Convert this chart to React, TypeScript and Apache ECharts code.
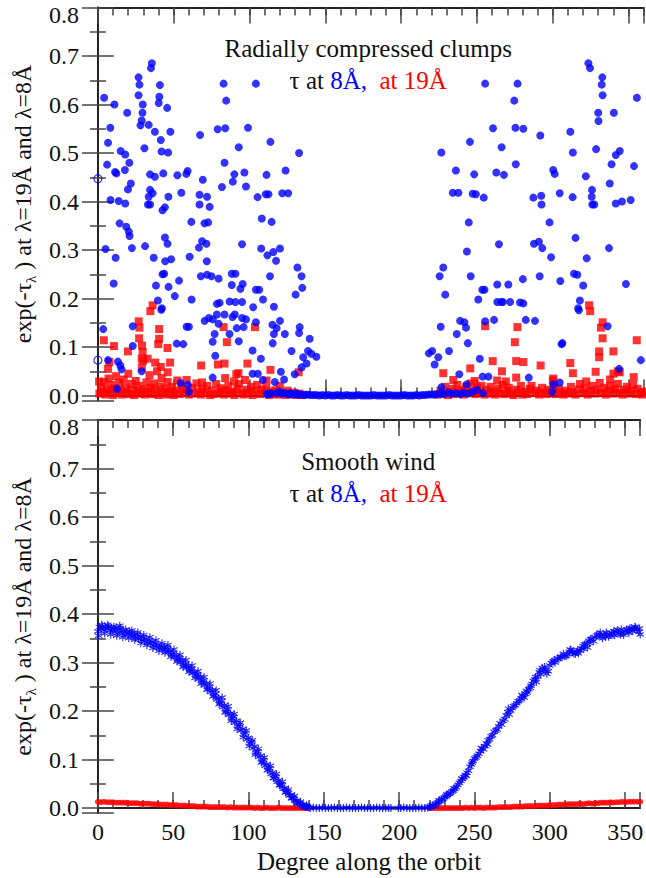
import React, { useEffect, useRef } from 'react';
import * as echarts from 'echarts';

const FONT = 'Liberation Serif';
const BLUE = '#0000ff';
const RED = '#ff0000';
const INK = '#111111';

// ---------- Top panel: radially compressed clumps ----------
const clumpsBlue8A: [number, number][] = [
  [35.6,0.685],[35.0,0.675],[26.8,0.656],[27.4,0.641],[40.9,0.640],[4.1,0.614],[26.8,0.619],[40.5,0.616],[40.1,0.603],[10.9,0.600],
  [29.6,0.600],[45.7,0.593],[19.3,0.583],[29.4,0.583],[28.9,0.567],[28.1,0.557],[33.5,0.558],[8.2,0.552],[37.6,0.544],[47.8,0.544],
  [41.5,0.527],[6.7,0.521],[30.7,0.510],[15.0,0.504],[18.0,0.497],[42.0,0.503],[46.3,0.501],[20.7,0.480],[6.1,0.476],[17.8,0.465],
  [11.3,0.461],[12.2,0.458],[34.4,0.456],[37.6,0.451],[43.1,0.458],[52.4,0.454],[59.2,0.463],[58.3,0.457],[21.7,0.437],[19.8,0.425],
  [34.4,0.424],[33.5,0.410],[36.1,0.417],[46.5,0.410],[8.3,0.403],[13.7,0.401],[18.0,0.396],[33.0,0.394],[34.4,0.394],[44.2,0.388],
  [42.6,0.382],[55.0,0.418],[67.4,0.537],[79.0,0.549],[84.0,0.551],[82.9,0.643],[84.6,0.608],[83.5,0.480],[69.2,0.445],[81.8,0.430],
  [67.0,0.414],[72.0,0.410],[67.0,0.394],[73.7,0.389],[61.6,0.358],[70.3,0.355],[72.7,0.357],[14.3,0.355],[18.7,0.348],[20.4,0.338],
  [20.9,0.329],[44.2,0.326],[45.9,0.313],[5.0,0.302],[11.7,0.284],[22.4,0.304],[31.1,0.308],[36.8,0.284],[44.4,0.277],[48.3,0.281],
  [60.5,0.286],[68.7,0.318],[71.6,0.313],[66.6,0.305],[71.8,0.277],[42.6,0.250],[43.7,0.251],[53.5,0.237],[38.3,0.227],[46.6,0.224],
  [67.9,0.246],[72.0,0.249],[74.9,0.246],[79.6,0.241],[88.3,0.251],[88.3,0.228],[10.4,0.231],[50.7,0.205],[61.8,0.198],[39.6,0.196],
  [42.2,0.180],[41.8,0.177],[78.5,0.189],[80.3,0.191],[86.9,0.194],[78.5,0.167],[83.5,0.167],[73.2,0.160],[70.4,0.154],[75.8,0.157],
  [79.6,0.148],[88.8,0.162],[58.5,0.142],[60.0,0.142],[3.5,0.137],[23.0,0.143],[77.0,0.127],[86.8,0.127],[75.7,0.111],[52.0,0.107],
  [56.3,0.106],[23.0,0.102],[77.4,0.082],[13.2,0.070],[14.8,0.062],[15.6,0.054],[6.7,0.073],[28.9,0.050],[75.7,0.037],[12.6,0.014],
  [54.6,0.026],[59.4,0.022],[60.0,0.008],
  [104.2,0.643],[99.0,0.552],[113.8,0.523],[92.9,0.512],[132.7,0.500],[90.0,0.456],[89.0,0.441],[96.6,0.460],[111.2,0.455],[123.8,0.464],
  [97.7,0.431],[105.3,0.409],[110.7,0.415],[112.5,0.415],[121.6,0.417],[125.5,0.417],[108.1,0.365],[114.6,0.358],[95.1,0.312],[107.7,0.303],
  [111.8,0.289],[115.7,0.296],[120.1,0.303],[117.5,0.278],[131.6,0.264],[134.3,0.246],[90.7,0.251],[113.5,0.246],[95.5,0.230],[94.0,0.220],
  [104.2,0.218],[106.4,0.218],[134.8,0.222],[130.4,0.208],[108.9,0.198],[90.7,0.193],[95.1,0.193],[102.4,0.182],[116.1,0.183],[90.3,0.167],
  [95.1,0.160],[97.7,0.157],[91.6,0.139],[96.1,0.141],[104.2,0.151],[115.1,0.146],[120.1,0.154],[117.9,0.139],[116.1,0.127],[123.3,0.127],
  [133.1,0.141],[132.7,0.129],[92.9,0.112],[139.7,0.117],[115.3,0.108],[127.7,0.092],[138.6,0.092],[140.8,0.086],[144.1,0.080],[135.4,0.079],
  [102.0,0.093],[107.5,0.076],[137.6,0.066],[134.3,0.058],[120.7,0.049],[102.0,0.045],[105.5,0.045],[129.8,0.044],[108.8,0.032],[116.7,0.028],
  [122.8,0.033],[111.4,0.003],[114.2,0.004],[120.1,0.008],[127.0,0.005],[131.5,0.004],
  [255.4,0.643],[260.6,0.551],[245.4,0.523],[266.3,0.512],[226.5,0.501],[236.1,0.464],[248.2,0.456],[262.8,0.460],[267.8,0.455],[234.1,0.418],
  [237.8,0.418],[247.2,0.416],[249.3,0.415],[254.5,0.408],[244.6,0.357],[264.5,0.312],[243.4,0.297],[227.8,0.264],[225.4,0.246],[245.9,0.246],
  [263.4,0.229],[229.1,0.208],[250.9,0.198],[253.5,0.218],[255.0,0.218],[263.4,0.193],[266.0,0.193],[238.9,0.154],[241.7,0.151],[242.8,0.140],
  [226.1,0.142],[236.7,0.127],[255.4,0.153],[261.3,0.156],[244.0,0.108],[218.3,0.087],[220.5,0.092],[231.6,0.092],[224.5,0.079],[222.1,0.064],
  [251.9,0.076],[238.4,0.044],[253.7,0.039],[257.6,0.039],[243.2,0.023],[226.6,0.017],
  [323.5,0.685],[324.6,0.675],[276.8,0.643],[332.7,0.656],[332.3,0.641],[332.9,0.619],[355.5,0.614],[274.6,0.608],[330.0,0.583],[330.2,0.566],
  [340.3,0.583],[275.4,0.552],[280.6,0.550],[291.8,0.536],[311.6,0.544],[313.3,0.501],[328.6,0.508],[344.2,0.504],[341.6,0.496],[275.6,0.477],
  [338.8,0.477],[353.6,0.473],[300.3,0.465],[301.3,0.457],[321.8,0.452],[337.6,0.437],[325.9,0.424],[287.2,0.408],[292.4,0.412],[292.6,0.394],
  [304.6,0.417],[313.1,0.409],[325.7,0.410],[326.1,0.394],[327.4,0.394],[341.6,0.396],[345.7,0.400],[351.4,0.403],[297.9,0.357],[315.0,0.325],
  [287.6,0.313],[290.9,0.317],[293.1,0.304],[337.1,0.304],[298.9,0.285],[322.4,0.283],[291.4,0.246],[280.3,0.240],[305.0,0.236],[314.0,0.251],
  [316.2,0.249],[320.1,0.227],[348.3,0.230],[270.7,0.229],[267.1,0.193],[271.9,0.193],[278.4,0.192],[280.6,0.190],[317.9,0.196],[316.8,0.180],
  [317.2,0.176],[282.2,0.156],[288.3,0.154],[336.2,0.143],[306.4,0.108],[305.8,0.106],[358.1,0.073],[343.8,0.055],[284.2,0.037],[300.3,0.023],
  [304.6,0.027],[299.7,0.008],
];

const clumpsBlueHollow: [number, number][] = [[0,0.447],[0,0.073]];

const clumpsBlueNearZero: [number, number][] = [
  [112,0.003],[114,0.004],[118,0.006],[121,0.004],[123,0.005],[125,0.003],[127,0.004],[128,0.002],[130,0.003],[132,0.002],
  [134,0.002],[136,0.001],[138,0.002],[140,0.001],[142,0.001],[144,0.001],[146,0],[148,0.001],[150,0],[152,0.001],
  [154,0],[156,0],[158,0.001],[160,0],[162,0],[164,0.001],[166,0],[168,0],[170,0],[172,0.001],
  [174,0],[176,0],[178,0],[180,0],[182,0.001],[184,0],[186,0],[188,0],[190,0],[192,0.001],
  [194,0],[196,0],[198,0],[200,0],[202,0.001],[204,0],[206,0],[208,0],[210,0.001],[212,0],
  [214,0.001],[216,0.001],[218,0.002],[220,0.002],[222,0.002],[224,0.003],[226,0.004],[228,0.003],[231,0.006],[233,0.004],
  [236,0.005],[239,0.003],[241,0.006],[244,0.004],[247,0.008],[250,0.012],[254,0.005],
];

const clumpsRed19A: [number, number][] = [
  [36.1,0.186],[34.6,0.174],[26.9,0.153],[27.4,0.140],[40.4,0.137],[3.9,0.114],[10.6,0.102],[27.2,0.118],[40.4,0.117],[29.1,0.103],
  [39.8,0.106],[45.9,0.098],[19.8,0.091],[29.5,0.090],[28.9,0.076],[29.8,0.072],[47.6,0.068],[32.8,0.076],[37.8,0.068],[41.5,0.059],
  [6.7,0.055],[7.5,0.069],[46.0,0.048],[68.1,0.062],[82.9,0.141],[85.1,0.110],[103.6,0.141],[79.2,0.064],[83.5,0.066],[98.6,0.066],
  [92.7,0.046],[113.8,0.053],[83.9,0.036],[89.8,0.029],[97.0,0.032],[0.8,0.029],[52.4,0.031],[58.5,0.032],[68.7,0.027],[111.2,0.031],
  [132.4,0.048],[91.3,0.044],
  [324.0,0.186],[324.7,0.174],[332.9,0.151],[331.8,0.140],[276.7,0.141],[255.4,0.143],[332.9,0.118],[355.4,0.114],[275.0,0.110],[330.6,0.091],
  [330.6,0.079],[340.0,0.091],[260.4,0.071],[275.9,0.071],[280.6,0.069],[292.0,0.062],[311.6,0.067],[245.6,0.056],[266.5,0.050],[313.3,0.046],
  [328.3,0.049],[344.2,0.048],[353.4,0.038],[227.8,0.046],[234.4,0.032],[263.3,0.031],[269.1,0.029],[275.9,0.037],[322.1,0.029],[300.1,0.031],
  [337.8,0.033],[340.0,0.045],[248.5,0.030],[300.3,0.035],[343.0,0.050],
];

const clumpsRed19ABase: [number, number][] = [
  [1,0.004],[2,0.018],[3,0.008],[4,0.028],[5,0.002],[6,0.012],[7,0.035],[8,0.006],[9,0.022],[10,0.001],
  [11,0.015],[12,0.040],[13,0.005],[14,0.026],[15,0.010],[16,0.002],[17,0.033],[18,0.017],[19,0.007],[20,0.045],
  [21,0.003],[22,0.024],[23,0.012],[24,0.001],[25,0.030],[26,0.009],[27,0.020],[28,0.004],[29,0.058],[30,0.013],
  [31,0.002],[32,0.027],[33,0.008],[34,0.042],[35,0.016],[36,0.003],[37,0.025],[38,0.010],[39,0.050],[40,0.001],
  [41,0.019],[42,0.036],[43,0.006],[44,0.014],[45,0.002],[46,0.028],[47,0.009],[48,0.004],[49,0.018],[50,0.001],
  [52,0.010],[54,0.003],[55,0.020],[57,0.006],[58,0.012],[60,0.002],[62,0.016],[63,0.004],[65,0.025],[66,0.008],
  [68,0.002],[69,0.014],[71,0.005],[72,0.020],[74,0.001],[75,0.010],[77,0.003],[78,0.024],[80,0.007],[81,0.015],
  [83,0.002],[84,0.011],[86,0.020],[87,0.004],[89,0.008],[90,0.001],[92,0.014],[93,0.024],[95,0.006],[96,0.002],
  [98,0.012],[99,0.004],[101,0.018],[102,0.001],[104,0.009],[105,0.022],[107,0.003],[108,0.012],[110,0.005],[111,0.015],
  [113,0.001],[114,0.008],[116,0.003],[117,0.011],[119,0.002],[120,0.020],[122,0.005],[124,0.001],[125,0.010],[127,0.003],
  [129,0.006],[131,0.001],[133,0.004],[135,0.001],
  [224,0.002],[226,0.010],[228,0.004],[229,0.018],[231,0.001],[232,0.008],[234,0.014],[235,0.003],[237,0.022],[238,0.006],
  [240,0.012],[241,0.002],[243,0.018],[244,0.005],[246,0.025],[247,0.009],[249,0.003],[250,0.016],[252,0.006],[253,0.020],
  [255,0.002],[256,0.012],[258,0.004],[259,0.018],[261,0.008],[262,0.002],[264,0.014],[265,0.005],[267,0.022],[268,0.003],
  [270,0.010],[271,0.016],[273,0.004],[274,0.001],[276,0.012],[277,0.006],[279,0.020],[280,0.002],[282,0.008],[283,0.003],
  [285,0.014],[286,0.020],[288,0.005],[289,0.010],[291,0.002],[293,0.016],[294,0.006],[296,0.003],[297,0.012],[299,0.008],
  [301,0.020],[302,0.003],[304,0.014],[305,0.006],[307,0.002],[308,0.010],[310,0.004],[312,0.018],[313,0.007],[315,0.002],
  [317,0.012],[318,0.024],[320,0.005],[321,0.015],[323,0.002],[325,0.010],[326,0.020],[328,0.004],[329,0.012],[331,0.026],
  [332,0.006],[334,0.016],[335,0.002],[337,0.010],[338,0.020],[340,0.004],[341,0.014],[343,0.024],[344,0.006],[346,0.002],
  [347,0.012],[349,0.018],[350,0.004],[352,0.010],[353,0.022],[355,0.003],[356,0.014],[358,0.006],[359,0.002],[360,0.008],
];

// ---------- Bottom panel: smooth wind ----------
const smoothBlue8A: [number, number][] = [
  [0,0.364],[1,0.373],[2,0.369],[3,0.375],[4,0.367],[5,0.372],[6,0.370],[7,0.375],[8,0.366],[9,0.371],
  [10,0.364],[11,0.369],[12,0.372],[13,0.361],[14,0.367],[15,0.371],[16,0.360],[17,0.365],[18,0.357],[19,0.363],
  [20,0.359],[21,0.364],[22,0.354],[23,0.360],[24,0.356],[25,0.351],[26,0.358],[27,0.349],[28,0.354],[29,0.346],
  [30,0.352],[31,0.344],[32,0.349],[33,0.341],[34,0.346],[35,0.339],[36,0.343],[37,0.335],[38,0.340],[39,0.331],
  [40,0.337],[41,0.330],[42,0.334],[43,0.326],[44,0.332],[45,0.327],[46,0.331],[47,0.321],[48,0.325],[49,0.316],
  [50,0.320],[51,0.311],[52,0.314],[53,0.305],[54,0.310],[55,0.300],[56,0.305],[57,0.294],[58,0.298],[59,0.289],
  [60,0.293],[61,0.284],[62,0.287],[63,0.278],[64,0.281],[65,0.272],[66,0.276],[67,0.266],[68,0.270],[69,0.259],
  [70,0.263],[71,0.253],[72,0.257],[73,0.246],[74,0.250],[75,0.239],[76,0.243],[77,0.232],[78,0.235],[79,0.224],
  [80,0.227],[81,0.216],[82,0.220],[83,0.208],[84,0.212],[85,0.199],[86,0.203],[87,0.192],[88,0.195],[89,0.184],
  [90,0.188],[91,0.176],[92,0.180],[93,0.168],[94,0.172],[95,0.160],[96,0.163],[97,0.151],[98,0.155],[99,0.142],
  [100,0.145],[101,0.133],[102,0.136],[103,0.123],[104,0.127],[105,0.114],[106,0.117],[107,0.105],[108,0.108],[109,0.096],
  [110,0.099],[111,0.087],[112,0.090],[113,0.079],[114,0.082],[115,0.070],[116,0.073],[117,0.062],[118,0.065],[119,0.054],
  [120,0.057],[121,0.047],[122,0.049],[123,0.040],[124,0.041],[125,0.033],[126,0.034],[127,0.026],[128,0.027],[129,0.020],
  [130,0.021],[131,0.014],[132,0.015],[133,0.010],[134,0.010],[135,0.006],[136,0.006],[137,0.003],[138,0.003],[139,0.002],
  [140,0.001],
  [219,0.001],[220,0.003],[221,0.002],[222,0.005],[223,0.004],[224,0.008],[225,0.010],[226,0.012],[227,0.014],[228,0.017],
  [229,0.019],[230,0.022],[231,0.024],[232,0.027],[233,0.029],[234,0.031],[235,0.034],[236,0.036],[237,0.040],[238,0.043],
  [239,0.048],[240,0.052],[241,0.056],[242,0.060],[243,0.064],[244,0.068],[245,0.073],[246,0.077],[247,0.085],[248,0.090],
  [249,0.097],[250,0.102],[252,0.108],[253,0.112],[254,0.117],[255,0.123],[256,0.121],[257,0.128],[258,0.133],[259,0.140],
  [260,0.142],[262,0.150],[263,0.157],[264,0.160],[266,0.168],[267,0.175],[268,0.172],[270,0.183],[271,0.191],[272,0.198],
  [273,0.193],[274,0.201],[275,0.206],[277,0.212],[278,0.216],[279,0.220],[280,0.222],[281,0.226],[282,0.230],[283,0.228],
  [284,0.235],[285,0.238],[286,0.245],[287,0.248],[288,0.256],[289,0.262],[290,0.265],[291,0.260],[292,0.271],[293,0.280],
  [294,0.276],[295,0.289],[296,0.285],[297,0.283],[298,0.277],[299,0.282],[300,0.294],[301,0.299],[302,0.302],[303,0.305],
  [305,0.309],[306,0.307],[307,0.311],[308,0.312],[310,0.313],[311,0.314],[312,0.317],[313,0.322],[314,0.326],[315,0.321],
  [316,0.318],[317,0.318],[318,0.322],[319,0.319],[320,0.325],[321,0.329],[322,0.334],[323,0.337],[324,0.339],[325,0.331],
  [326,0.345],[327,0.348],[328,0.349],[330,0.352],[331,0.356],[332,0.358],[333,0.357],[334,0.354],[335,0.350],[336,0.356],
  [337,0.353],[338,0.359],[339,0.353],[340,0.357],[341,0.361],[342,0.358],[343,0.356],[344,0.364],[345,0.367],[346,0.360],
  [347,0.358],[348,0.361],[349,0.357],[350,0.365],[351,0.368],[352,0.364],[353,0.370],[354,0.371],[355,0.365],[356,0.369],
  [357,0.372],[358,0.368],[359,0.363],[360,0.358],
];

const smoothBlue8AScatter: [number, number][] = [
  [0.5,0.355],[2.5,0.378],[4.5,0.360],[6.5,0.378],[8.5,0.358],[10.5,0.374],[12.5,0.355],[14.5,0.376],[16.5,0.352],[18.5,0.368],
  [20.5,0.350],[22.5,0.366],[24.5,0.347],[26.5,0.362],[28.5,0.340],[30.5,0.357],[32.5,0.336],[34.5,0.352],[36.5,0.330],[38.5,0.346],
  [40.5,0.324],[42.5,0.340],[44.5,0.320],[46.5,0.336],[48.5,0.312],[50.5,0.327],[52.5,0.302],[54.5,0.316],[56.5,0.291],[58.5,0.305],
  [60.5,0.281],[62.5,0.294],[64.5,0.268],[66.5,0.282],[68.5,0.256],[70.5,0.270],[72.5,0.244],[74.5,0.257],[76.5,0.230],[78.5,0.243],
  [80.5,0.214],[82.5,0.228],[84.5,0.197],[86.5,0.210],[88.5,0.180],[90.5,0.194],[92.5,0.163],[94.5,0.176],[96.5,0.146],[98.5,0.160],
  [100.5,0.128],[102.5,0.140],[104.5,0.110],[106.5,0.122],[108.5,0.094],[110.5,0.104],[112.5,0.078],[114.5,0.087],[116.5,0.062],[118.5,0.070],
  [120.5,0.047],[122.5,0.054],[124.5,0.032],[126.5,0.038],[128.5,0.020],[130.5,0.025],[132.5,0.011],[134.5,0.013],[136.5,0.004],[138.5,0.006],
  [226.5,0.016],[231.5,0.028],[236.5,0.041],[241.5,0.061],[244.5,0.066],[248.5,0.094],[251,0.104],[254.5,0.124],[258.5,0.131],[261,0.148],
  [265,0.162],[269,0.180],[272.5,0.205],[276,0.210],[281.5,0.233],[284.5,0.242],[287.5,0.252],[290.5,0.270],[293.5,0.284],[296.5,0.291],
  [303.5,0.300],[309,0.318],[313.5,0.327],[318.5,0.326],[322.5,0.328],[326.5,0.340],[329,0.344],[333.5,0.362],[337.5,0.362],[342.5,0.365],
  [347.5,0.368],[352.5,0.361],[356.5,0.374],[359.5,0.370],
];

const smoothBlueZero: [number, number][] = [
  [141,0],[143,0.001],[145,0],[147,0],[149,0.001],[151,0],[153,0],[155,0],[157,0.001],[159,0],
  [161,0],[163,0],[165,0.001],[167,0],[169,0],[171,0],[173,0],[175,0.001],[177,0],[179,0],
  [181,0],[183,0],[185,0.001],[187,0],[189,0],[191,0],[193,0],[194.5,0],[199.5,0],[201,0],
  [203,0.001],[205,0],[207,0],[209,0],[211,0],[213,0.001],[215,0],[217,0],
];

const smoothRed19A: [number, number][] = [
  [0,0.013],[2,0.012],[4,0.013],[6,0.012],[8,0.012],[10,0.012],[12,0.011],[14,0.011],[16,0.011],[18,0.011],
  [20,0.010],[22,0.010],[24,0.010],[26,0.010],[28,0.009],[30,0.009],[32,0.009],[34,0.009],[36,0.008],[38,0.008],
  [40,0.008],[42,0.007],[44,0.007],[46,0.007],[48,0.006],[50,0.006],[52,0.006],[54,0.005],[56,0.005],[58,0.005],
  [60,0.004],[62,0.004],[64,0.004],[66,0.003],[68,0.003],[70,0.003],[72,0.003],[74,0.002],[76,0.002],[78,0.002],
  [80,0.002],[82,0.002],[84,0.002],[86,0.001],[88,0.002],[90,0.001],[92,0.001],[94,0.001],[96,0.001],[98,0.001],
  [100,0.001],[102,0.001],[104,0],[106,0.001],[108,0],[110,0],[112,0.001],[114,0],[116,0],[118,0],
  [120,0.001],[122,0],[124,0],[126,0],[128,0],[130,0],[132,0],[134,0],[136,0],[138,0],
  [140,0],[220,0],[222,0],[224,0],[226,0],[228,0],[230,0],[232,0],[234,0],[236,0],
  [238,0],[240,0],[242,0],[244,0.001],[246,0],[248,0.001],[250,0],[252,0.001],[254,0.001],[256,0],
  [258,0.001],[260,0.001],[262,0.001],[264,0.001],[266,0.002],[268,0.002],[270,0.002],[272,0.002],[274,0.002],[276,0.003],
  [278,0.003],[280,0.003],[282,0.003],[284,0.004],[286,0.004],[288,0.004],[290,0.004],[292,0.005],[294,0.005],[296,0.005],
  [298,0.005],[300,0.006],[302,0.006],[304,0.006],[306,0.007],[308,0.007],[310,0.007],[312,0.008],[314,0.008],[316,0.008],
  [318,0.008],[320,0.009],[322,0.008],[324,0.009],[326,0.010],[328,0.009],[330,0.010],[332,0.010],[334,0.011],[336,0.011],
  [338,0.011],[340,0.012],[342,0.011],[344,0.012],[346,0.012],[348,0.013],[350,0.012],[352,0.013],[354,0.013],[356,0.013],
  [358,0.013],[360,0.013],
];

const panelTitles = ['Radially compressed clumps', 'Smooth wind'];
const xAxisTitle = '{n|Degree along the orbit}';
const yAxisTitle = '{n|exp(-τ}{sub|λ}{n| ) at λ=19Å and λ=8Å}';

const STAR =
  'path://M-0.7,-5L0.7,-5L0.7,5L-0.7,5Z M-4.68,-1.894L-3.98,-3.106L4.68,1.894L3.98,3.106Z M-3.98,3.106L-4.68,1.894L3.98,-3.106L4.68,-1.894Z';

const GRID_LEFT = 92.7;
const GRID_WIDTH = 551;
const GRID_H = 392.9;
const GRID_TOPS = [7.5, 420];

const TICK_FS = 24;
const TITLE_FS = 25;
const Y_TITLE_FS = 24;
const NOTE_FS = 25;

const AXIS_LINE = { show: true, lineStyle: { color: '#222', width: 1.8 } };
const TICK_STYLE = { color: '#444', width: 1.5 };
const MAJOR_LEN = 16;
const MINOR_LEN = 8;

const tickRich = {
  t: { fontSize: TICK_FS, fontFamily: FONT, color: INK },
  top: { fontSize: TICK_FS, fontFamily: FONT, color: INK, padding: [14, 0, 0, 0] },
};

function xAxesFor(g: number, withLabels: boolean) {
  const base = { gridIndex: g, type: 'value', min: 0, max: 360, splitLine: { show: false } };
  const minorBottom: any = {
    ...base,
    position: 'bottom',
    interval: 10,
    axisLine: AXIS_LINE,
    axisTick: { show: true, inside: true, length: MINOR_LEN, lineStyle: TICK_STYLE },
    axisLabel: withLabels
      ? {
          show: true,
          margin: 7,
          fontSize: TICK_FS,
          fontFamily: FONT,
          color: INK,
          rich: tickRich,
          formatter: (v: number) =>
            Math.round(v) % 50 === 0 && v < 359 ? '{t|' + String(Math.round(v)) + '}' : '',
        }
      : { show: false },
  };
  if (withLabels) {
    minorBottom.name = xAxisTitle;
    minorBottom.nameLocation = 'middle';
    minorBottom.nameGap = 36;
    minorBottom.nameTextStyle = {
      fontSize: TITLE_FS,
      fontFamily: FONT,
      color: INK,
      rich: { n: { fontSize: TITLE_FS, fontFamily: FONT, color: INK } },
    };
  }
  return [
    minorBottom,
    { ...base, position: 'bottom', interval: 50, axisLine: { show: false }, axisTick: { show: true, inside: true, length: MAJOR_LEN, lineStyle: TICK_STYLE }, axisLabel: { show: false } },
    { ...base, position: 'top', interval: 10, axisLine: AXIS_LINE, axisTick: { show: true, inside: true, length: MINOR_LEN, lineStyle: TICK_STYLE }, axisLabel: { show: false } },
    { ...base, position: 'top', interval: 50, axisLine: { show: false }, axisTick: { show: true, inside: true, length: MAJOR_LEN, lineStyle: TICK_STYLE }, axisLabel: { show: false } },
  ];
}

function yAxesFor(g: number) {
  const base = {
    gridIndex: g,
    type: 'value',
    min: -0.01,
    max: 0.8,
    splitNumber: 8,
    splitLine: { show: false },
    minorSplitLine: { show: false },
    axisLine: AXIS_LINE,
    axisTick: { show: true, inside: true, length: MAJOR_LEN, lineStyle: TICK_STYLE },
    minorTick: { show: true, splitNumber: 2, length: MINOR_LEN, lineStyle: TICK_STYLE },
  };
  return [
    {
      ...base,
      position: 'left',
      axisLabel: {
        show: true,
        margin: 19,
        fontSize: TICK_FS,
        fontFamily: FONT,
        color: INK,
        formatter: (v: number) => {
          if (v < -0.001) return '';
          if (Math.abs(v - 0.8) < 1e-6) return '{top|0.8}';
          return '{t|' + v.toFixed(1) + '}';
        },
        rich: tickRich,
      },
      name: yAxisTitle,
      nameLocation: 'middle',
      nameGap: 51,
      nameTextStyle: {
        fontSize: Y_TITLE_FS,
        fontFamily: FONT,
        color: INK,
        lineHeight: 30,
        rich: {
          n: { fontSize: Y_TITLE_FS, fontFamily: FONT, color: INK, lineHeight: 30 },
          sub: { fontSize: 15, fontFamily: FONT, color: INK, verticalAlign: 'bottom', lineHeight: 15 },
        },
      },
    },
    { ...base, position: 'right', axisLabel: { show: false } },
  ];
}

function annotation(g: number, title: string) {
  const top = GRID_TOPS[g];
  return [
    {
      type: 'text',
      x: GRID_LEFT + GRID_WIDTH / 2,
      y: top + 41,
      style: { text: title, fontSize: NOTE_FS, fontFamily: FONT, fill: INK, align: 'center', verticalAlign: 'middle' },
      z: 100,
    },
    {
      type: 'text',
      x: GRID_LEFT + GRID_WIDTH / 2,
      y: top + 73,
      style: {
        text: '{k|τ at }{b|8Å,}  {r|at 19Å}',
        fontSize: NOTE_FS,
        fontFamily: FONT,
        fill: INK,
        align: 'center',
        verticalAlign: 'middle',
        rich: {
          k: { fill: INK, fontSize: NOTE_FS, fontFamily: FONT },
          b: { fill: BLUE, fontSize: NOTE_FS, fontFamily: FONT },
          r: { fill: RED, fontSize: NOTE_FS, fontFamily: FONT },
        },
      },
      z: 100,
    },
  ];
}

export default function App() {
  const ref = useRef<HTMLDivElement>(null);

  useEffect(() => {
    if (!ref.current) return;
    const chart = echarts.init(ref.current, undefined, { renderer: 'svg' });
    const option: any = {
      animation: false,
      backgroundColor: '#ffffff',
      textStyle: { fontFamily: FONT },
      grid: GRID_TOPS.map((t) => ({ left: GRID_LEFT, top: t, width: GRID_WIDTH, height: GRID_H, containLabel: false })),
      xAxis: [...xAxesFor(0, false), ...xAxesFor(1, true)],
      yAxis: [...yAxesFor(0), ...yAxesFor(1)],
      graphic: [...annotation(0, panelTitles[0]), ...annotation(1, panelTitles[1])],
      series: [
        {
          type: 'scatter', xAxisIndex: 0, yAxisIndex: 0, symbol: 'rect', symbolSize: 8,
          itemStyle: { color: RED }, data: [...clumpsRed19ABase, ...clumpsRed19A], z: 2,
        },
        {
          type: 'scatter', xAxisIndex: 0, yAxisIndex: 0, symbol: 'circle', symbolSize: 8,
          itemStyle: { color: BLUE }, data: [...clumpsBlueNearZero, ...clumpsBlue8A], z: 3,
        },
        {
          type: 'scatter', xAxisIndex: 0, yAxisIndex: 0, symbol: 'circle', symbolSize: 8,
          itemStyle: { color: 'rgba(0,0,0,0)', borderColor: BLUE, borderWidth: 1.2 }, data: clumpsBlueHollow, z: 3,
        },
        {
          type: 'scatter', xAxisIndex: 4, yAxisIndex: 2, symbol: 'circle', symbolSize: 6,
          itemStyle: { color: RED }, data: smoothRed19A, z: 2,
        },
        {
          type: 'scatter', xAxisIndex: 4, yAxisIndex: 2, symbol: STAR, symbolSize: 8,
          itemStyle: { color: BLUE }, data: [...smoothBlueZero, ...smoothBlue8A, ...smoothBlue8AScatter], z: 3,
        },
      ],
    };
    chart.setOption(option);
    return () => chart.dispose();
  }, []);

  return (
    <div
      ref={ref}
      style={{ position: 'absolute', left: 0, top: 0, width: 646, height: 878, background: '#fff' }}
    />
  );
}
